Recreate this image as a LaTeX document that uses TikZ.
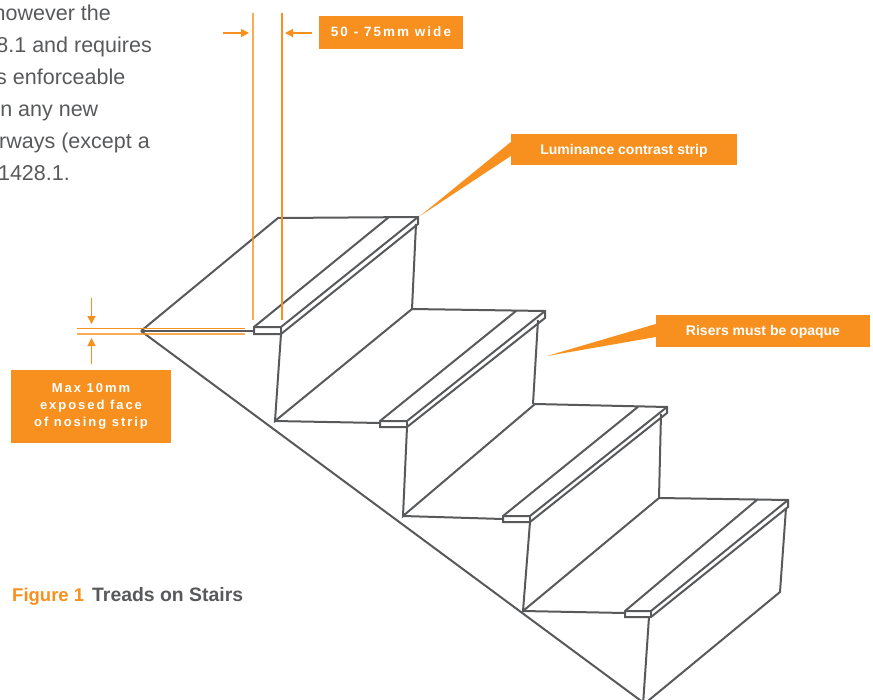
\documentclass[tikz,border=0pt]{standalone}
\usepackage{fontspec}
\setmainfont{Liberation Sans}
\usetikzlibrary{arrows.meta}
\definecolor{accent}{HTML}{F7901E}
\definecolor{ink}{HTML}{58595B}
\tikzset{
  stairline/.style={draw=ink,line width=2pt,line join=miter},
  dimline/.style={draw=accent,line width=1.2pt},
  dimarrow/.style={draw=accent,line width=1.2pt,-{Triangle[length=8pt,width=8pt]}},
  callout/.style={fill=accent,text=white,inner sep=0pt,anchor=center},
  bodytext/.style={text=ink,font=\fontsize{21.5}{21.5}\selectfont,anchor=base east,inner sep=0pt}
}
\begin{document}
\begin{tikzpicture}[x=1pt,y=-1pt]
\useasboundingbox (0,0) rectangle (873,699);
% body text
\node[bodytext] (t1) at (111,20) {however the};
\node[bodytext] (t2) at (152,52) {8.1 and requires};
\node[bodytext] (t3) at (125.5,84) {s enforceable};
\node[bodytext] (t4) at (98.5,116) {n any new};
\node[bodytext] (t5) at (150,148) {rways (except a};
\node[bodytext] (t6) at (70,180) {1428.1.};
% stairs
\draw[stairline] (141,331) -- (278,218) -- (418,217) -- (418,224) -- (281,334) -- (254,334) -- (254,327) -- (389,217);
\draw[stairline] (254,327) -- (281,327) -- (418,217);
\draw[stairline] (281,327) -- (281,334);
\draw[stairline] (141,331) -- (254,331);
\draw[stairline] (281,334) -- (275,421) -- (412,309) -- (416,224);
\draw[stairline] (275,421) -- (380,423);
\draw[stairline] (412,309) -- (545,311) -- (545,318) -- (407,427) -- (380,427) -- (380,421) -- (516,311);
\draw[stairline] (380,421) -- (407,421) -- (545,311);
\draw[stairline] (407,421) -- (407,427);
\draw[stairline] (538,320) -- (533,404);
\draw[stairline] (407,427) -- (403,516) -- (535,404) -- (667,407) -- (667,413) -- (530,522) -- (503,522) -- (503,516) -- (639,406);
\draw[stairline] (403,516) -- (503,519);
\draw[stairline] (503,516) -- (530,516) -- (667,407);
\draw[stairline] (530,516) -- (530,522);
\draw[stairline] (661,414) -- (659,498);
\draw[stairline] (530,522) -- (523,611) -- (659,498) -- (788,500) -- (788,507) -- (651,617) -- (625,617) -- (625,611) -- (758,499);
\draw[stairline] (523,611) -- (625,613);
\draw[stairline] (625,611) -- (651,611) -- (788,500);
\draw[stairline] (651,611) -- (651,617);
\draw[stairline] (786,508) -- (780,592) -- (643,705);
\draw[stairline] (649,617) -- (643,705);
\draw[stairline] (141,331) -- (648,706);
% callouts
\node[callout,text height=8.4pt,text depth=0pt,minimum width=144pt,minimum height=33pt,font=\bfseries\fontsize{13.5}{13.5}\selectfont\addfontfeatures{LetterSpace=15}] (w) at (391,32.5) {50 - 75mm wide};
\node[callout,text height=9.4pt,text depth=0pt,minimum width=226pt,minimum height=31pt,font=\bfseries\fontsize{14}{14}\selectfont] (lum) at (624,149.5) {Luminance contrast strip};
\node[callout,text height=9.4pt,text depth=0pt,minimum width=214pt,minimum height=32pt,font=\bfseries\fontsize{14}{14}\selectfont] (ris) at (763,331) {Risers must be opaque};
\node[callout,align=center,minimum width=160pt,minimum height=73pt,font=\bfseries\fontsize{13}{17}\selectfont\addfontfeatures{LetterSpace=15}] (mx) at (91,406.5) {Max 10mm\\exposed face\\of nosing strip};
\coordinate (lumtip) at (420,216);
\coordinate (ristip) at (547,356);
\fill[accent] (lumtip) -- ([yshift=-6.5pt]lum.west) -- ([yshift=7.5pt]lum.west) -- cycle;
\fill[accent] (ristip) -- ([yshift=-6pt]ris.west) -- ([yshift=7pt]ris.west) -- cycle;
% dimensions
\coordinate (va) at (253,13); \coordinate (vb) at (253,320);
\coordinate (vc) at (282,13); \coordinate (vd) at (282,320);
\draw[dimline,draw opacity=.75] (va) -- (vb);
\draw[dimline] (vc) -- (vd);
\coordinate (ha) at (77,328.5); \coordinate (hb) at (245,328.5);
\coordinate (hc) at (77,334); \coordinate (hd) at (245,334);
\draw[dimline] (ha) -- (hb);
\draw[dimline,draw opacity=.75] (hc) -- (hd);
\coordinate (a1) at (223,33); \coordinate (a2) at (249,33);
\coordinate (a3) at (312,33); \coordinate (a4) at (285,33);
\coordinate (a5) at (91.5,298); \coordinate (a6) at (91.5,324);
\coordinate (a7) at (91.5,364); \coordinate (a8) at (91.5,338);
\draw[dimarrow] (a1) -- (a2);
\draw[dimarrow] (a3) -- (a4);
\draw[dimarrow] (a5) -- (a6);
\draw[dimarrow] (a7) -- (a8);
% caption
\node[anchor=base west,inner sep=0pt,font=\bfseries\fontsize{18.5}{18.5}\selectfont,text=accent] (fig) at (12,601) {Figure 1};
\node[anchor=base west,inner sep=0pt,font=\bfseries\fontsize{19.4}{19.4}\selectfont,text=ink] (cap) at (92,601) {Treads on Stairs};
\end{tikzpicture}
\end{document}
